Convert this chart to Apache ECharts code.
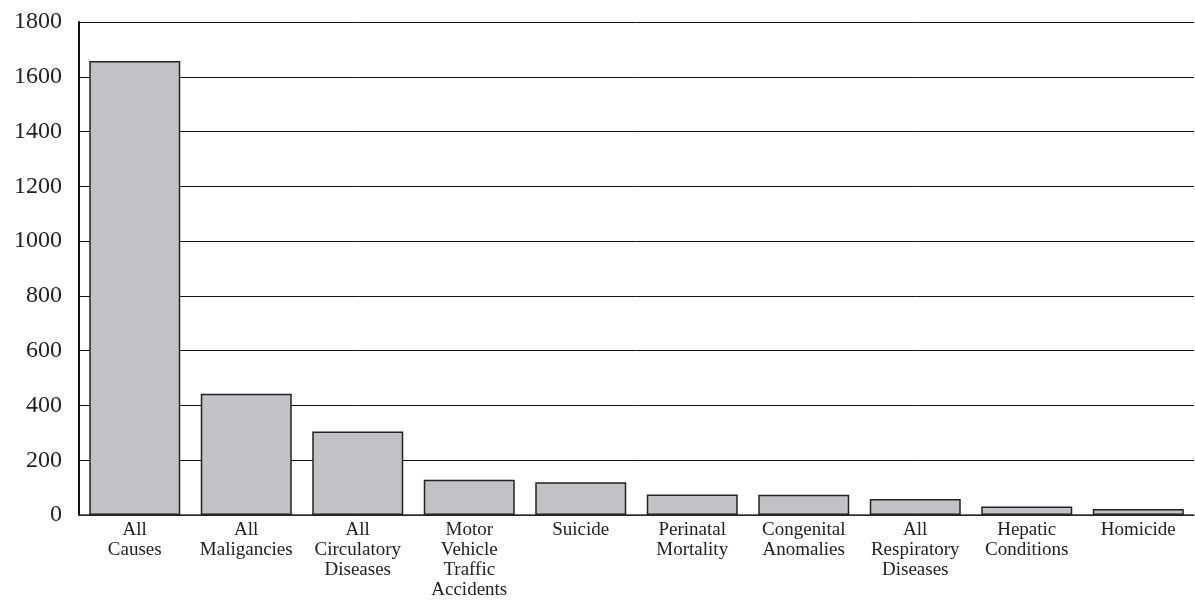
<!DOCTYPE html>
<html>
<head>
<meta charset="utf-8">
<script src="https://cdn.jsdelivr.net/npm/echarts@6/dist/echarts.min.js"></script>
<style>html,body{margin:0;padding:0;background:#fff;}#c{width:1195px;height:600px;}</style>
</head>
<body>
<div id="c"></div>
<script>
const categories = ["All\nCauses","All\nMaligancies","All\nCirculatory\nDiseases","Motor\nVehicle\nTraffic\nAccidents","Suicide","Perinatal\nMortality","Congenital\nAnomalies","All\nRespiratory\nDiseases","Hepatic\nConditions","Homicide"];
const values = [1658, 443, 305, 129, 120, 75, 74, 58, 31, 22];
const yTicks = [0, 200, 400, 600, 800, 1000, 1200, 1400, 1600, 1800];

const chart = echarts.init(document.getElementById('c'), null, {renderer:'canvas'});
chart.setOption({
  animation: false,
  backgroundColor: '#ffffff',
  grid: {left: 79, right: 1, top: 22, bottom: 83, containLabel: false},
  xAxis: {
    type: 'category',
    data: categories,
    axisLine: {show: true, lineStyle: {color: '#333', width: 1.5}},
    axisTick: {show: false},
    axisLabel: {interval: 0, fontFamily: 'Liberation Serif', fontSize: 19, lineHeight: 20, color: '#222', margin: 5, verticalAlign: 'top'},
    splitLine: {show: false}
  },
  yAxis: {
    type: 'value',
    min: yTicks[0],
    max: yTicks[yTicks.length - 1],
    interval: 200,
    axisLine: {show: true, lineStyle: {color: '#111', width: 2}},
    axisTick: {show: false},
    axisLabel: {fontFamily: 'Liberation Serif', fontSize: 24, color: '#222', margin: 17, formatter: function (v) { return String(v); }},
    splitLine: {show: true, lineStyle: {color: '#111', width: 1}}
  },
  series: [{
    type: 'bar',
    data: values,
    barWidth: 91,
    itemStyle: {color: '#c1c2c5', borderColor: '#222', borderWidth: 1.5},
    z: 3
  }]
});
</script>
</body>
</html>
